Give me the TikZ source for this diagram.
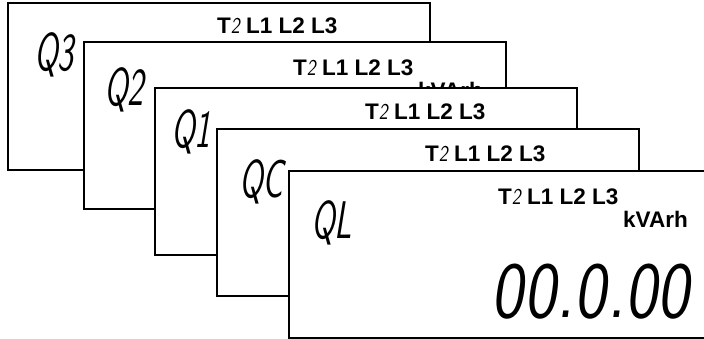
\documentclass[tikz,border=0pt]{standalone}
\usepackage{fontspec}
\setmainfont{Liberation Sans}
\newfontfamily\segfont[FakeSlant=0.16,FakeStretch=0.6]{lmsans10-regular.otf}
\newfontfamily\smallsegfont[FakeSlant=0.16,FakeStretch=0.8]{lmsans10-regular.otf}
\newfontfamily\bigsegfont[FakeSlant=0.14,FakeStretch=0.82]{lmsans10-regular.otf}
\newcommand{\segtwo}{{\smallsegfont\mdseries 2}}
\tikzset{
  panel/.style={draw=black, fill=white, line width=1.8pt, minimum width=422pt,
    minimum height=167pt, inner sep=0pt, outer sep=0pt, anchor=north west},
  phase/.style={anchor=base west, inner sep=0pt, font=\fontsize{22.5}{22.5}\selectfont\bfseries},
  unit/.style={anchor=base east, inner sep=0pt, font=\fontsize{22.5}{22.5}\selectfont\bfseries},
  code/.style={anchor=base west, inner sep=0pt, font=\segfont\fontsize{53}{53}\selectfont},
  reading/.style={anchor=base east, inner sep=0pt, font=\bigsegfont\fontsize{79}{79}\selectfont},
}
\begin{document}
\begin{tikzpicture}[x=1pt,y=-1pt]
\useasboundingbox (0,0) rectangle (704,338);
% panel 1
\node[panel] (p1) at (8,3) {};
\node[phase] (t1) at (217,33) {T\segtwo{} L1 L2 L3};
\node[code] (c1) at (34,70) {Q3};
% panel 2
\node[panel] (p2) at (84,42) {};
\node[phase] (t2) at (293,75) {T\segtwo{} L1 L2 L3};
\node[unit] (u2) at (483,98) {kVArh};
\node[code] (c2) at (104,105) {Q2};
% panel 3
\node[panel] (p3) at (155,88) {};
\node[phase] (t3) at (365,119) {T\segtwo{} L1 L2 L3};
\node[code] (c3) at (171,147) {Q1};
% panel 4
\node[panel] (p4) at (217,129) {};
\node[phase] (t4) at (425,161) {T\segtwo{} L1 L2 L3};
\node[code] (c4) at (239,197) {QC};
% panel 5
\node[panel] (p5) at (289,171) {};
\node[phase] (t5) at (498,204) {T\segtwo{} L1 L2 L3};
\node[unit] (u5) at (688,227) {kVArh};
\node[code] (c5) at (311,238) {QL};
\node[reading] (r5) at (690,317) {00.0.00};
\end{tikzpicture}
\end{document}
